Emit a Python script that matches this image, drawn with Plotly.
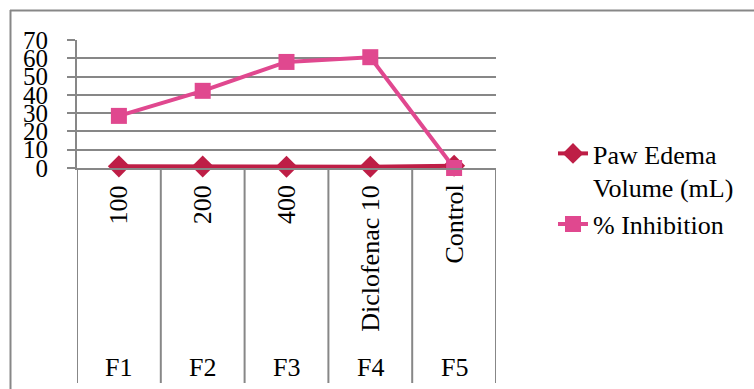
import plotly.graph_objects as go

groups = ["F1", "F2", "F3", "F4", "F5"]
doses = ["100", "200", "400", "Diclofenac 10", "Control"]
paw_edema = [0.9, 0.8, 0.7, 0.65, 1.2]
inhibition = [28.5, 42.2, 58.0, 60.6, 0.0]
y_ticks = [0, 10, 20, 30, 40, 50, 60, 70]

W, H = 754, 389
L, R, T, B = 77, 496, 40, 168  # plot area in px
pw, ph = R - L, B - T

def px_x(px):
    return (px - L) / pw

def px_y(py):
    return (B - py) / ph

GRAY = "#878787"
FONT = "Liberation Serif, Times New Roman, Times, serif"
C1 = "#BE1E46"
C2 = "#E0488F"

x_idx = list(range(len(doses)))

fig = go.Figure()
fig.add_trace(go.Scatter(
    x=x_idx, y=paw_edema, name="Paw Edema<br>Volume (mL)", mode="lines+markers",
    line=dict(color=C1, width=4), marker=dict(symbol="diamond", size=17, color=C1),
    cliponaxis=False))
fig.add_trace(go.Scatter(
    x=x_idx, y=inhibition, name="% Inhibition", mode="lines+markers",
    line=dict(color=C2, width=4), marker=dict(symbol="square", size=16, color=C2),
    cliponaxis=False))

shapes = []
# outer border (top and left visible)
shapes.append(dict(type="line", xref="paper", yref="paper", x0=px_x(10), x1=px_x(760),
                   y0=px_y(10.5), y1=px_y(10.5), line=dict(color=GRAY, width=2)))
shapes.append(dict(type="line", xref="paper", yref="paper", x0=px_x(10.5), x1=px_x(10.5),
                   y0=px_y(10), y1=px_y(400), line=dict(color=GRAY, width=2)))
# category separators below axis
for i in range(len(doses) + 1):
    shapes.append(dict(type="line", xref="x", yref="paper", x0=i - 0.5, x1=i - 0.5,
                       y0=0, y1=px_y(383), line=dict(color=GRAY, width=2)))

annotations = []
for i, d in enumerate(doses):
    annotations.append(dict(x=i, y=px_y(183), xref="x", yref="paper", text=d,
                            textangle=-90, showarrow=False, xanchor="center", yanchor="top",
                            font=dict(family=FONT, size=26, color="black")))
for i, g in enumerate(groups):
    annotations.append(dict(x=i, y=px_y(367), xref="x", yref="paper", text=g,
                            showarrow=False, xanchor="center", yanchor="middle",
                            font=dict(family=FONT, size=26, color="black")))

fig.update_layout(
    width=W, height=H,
    margin=dict(l=L, r=W - R, t=T, b=H - B),
    paper_bgcolor="white", plot_bgcolor="white",
    font=dict(family=FONT, size=26, color="black"),
    shapes=shapes, annotations=annotations,
    showlegend=True,
    legend=dict(x=px_x(553), y=px_y(130), xanchor="left", yanchor="top",
                font=dict(family=FONT, size=26, color="black"),
                valign="top", tracegroupgap=0, bgcolor="rgba(0,0,0,0)"),
)
fig.update_xaxes(range=[-0.5, len(doses) - 0.5], showticklabels=False, showgrid=False,
                 zeroline=False, showline=True, linecolor=GRAY, linewidth=2, ticks="")
fig.update_yaxes(range=[0, 70], tickvals=y_ticks, showgrid=True, gridcolor=GRAY, gridwidth=2,
                 zeroline=False, showline=True, linecolor=GRAY, linewidth=2,
                 ticks="outside", ticklen=8, tickcolor=GRAY, tickwidth=2,
                 ticklabelstandoff=14, tickfont=dict(family=FONT, size=25, color="black"))

fig.write_html("out.html")
